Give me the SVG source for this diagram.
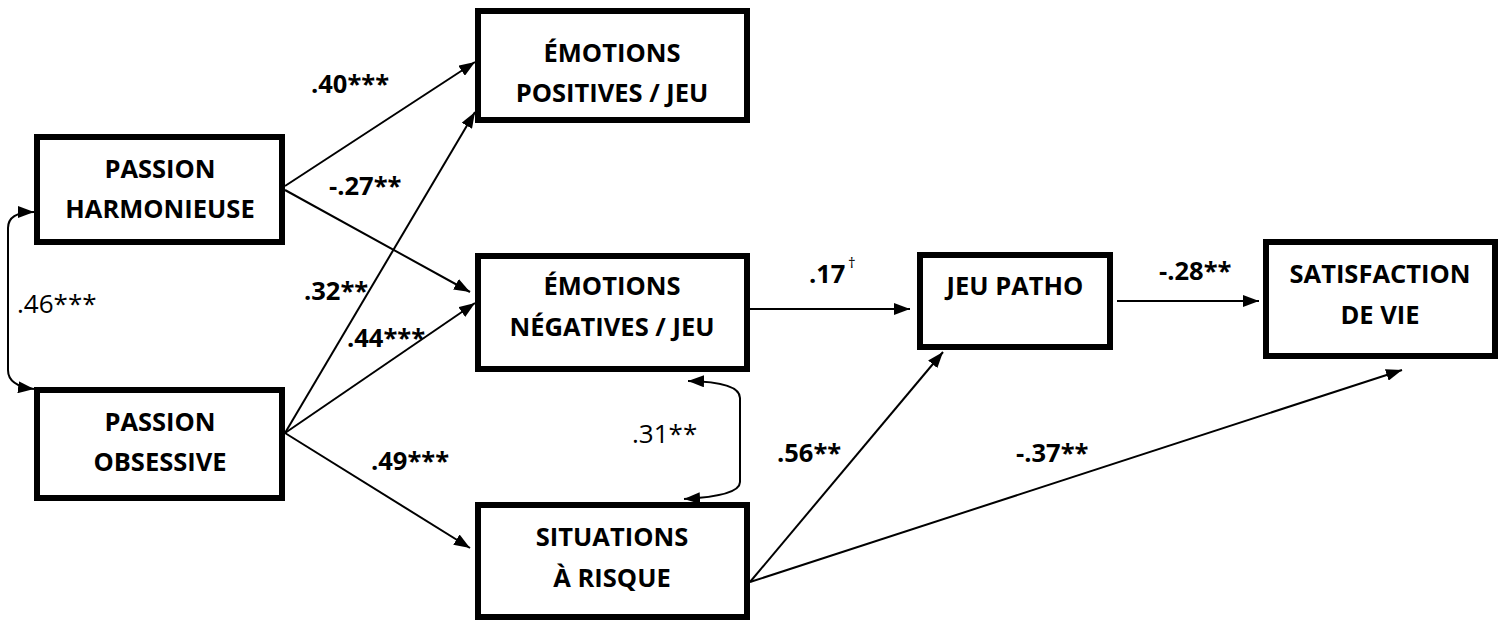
<svg xmlns="http://www.w3.org/2000/svg" width="1507" height="621" viewBox="0 0 1507 621">
<style>
.box{fill:#fff;stroke:#000;stroke-width:6}
.nt{font-family:"Open Sans","Liberation Sans",sans-serif;font-weight:bold;font-size:25.5px;text-anchor:middle;fill:#000}
.lb{font-family:"Open Sans","Liberation Sans",sans-serif;font-weight:bold;font-size:25.5px;fill:#000}
.ln{font-family:"Open Sans","Liberation Sans",sans-serif;font-weight:normal;font-size:26px;fill:#000}
.c{fill:none;stroke:#000;stroke-width:2}
</style>
<defs>
<marker id="ah" viewBox="0 0 16 12" refX="16" refY="6" markerWidth="16" markerHeight="12" markerUnits="userSpaceOnUse" orient="auto-start-reverse">
<path d="M0,0 L16,6 L0,12 z" fill="#000"/>
</marker>
</defs>
<g id="connectors">
<line class="c" x1="285" y1="186" x2="475" y2="62" marker-end="url(#ah)"/>
<line class="c" x1="285" y1="190" x2="470" y2="292" marker-end="url(#ah)"/>
<line class="c" x1="285" y1="433" x2="475" y2="112" marker-end="url(#ah)"/>
<line class="c" x1="285" y1="433" x2="475" y2="303" marker-end="url(#ah)"/>
<line class="c" x1="285" y1="433" x2="470" y2="548" marker-end="url(#ah)"/>
<line class="c" x1="750" y1="309" x2="910" y2="309" marker-end="url(#ah)"/>
<line class="c" x1="750" y1="582" x2="943" y2="352" marker-end="url(#ah)"/>
<line class="c" x1="750" y1="582" x2="1402" y2="370" marker-end="url(#ah)"/>
<line class="c" x1="1117" y1="301" x2="1259" y2="301" marker-end="url(#ah)"/>
<path class="c" d="M34,389 Q8,386 8,370 L8,228 Q8,212 34,212" marker-start="url(#ah)" marker-end="url(#ah)"/>
<path class="c" d="M688,381 Q740,382 740,398 L740,482 Q740,496 684,499" marker-start="url(#ah)" marker-end="url(#ah)"/>
</g>
<g id="labels">
<text class="lb" x="311" y="93">.40***</text>
<text class="lb" x="329" y="195">-.27**</text>
<text class="lb" x="304" y="300">.32**</text>
<text class="lb" x="347" y="347">.44***</text>
<text class="lb" x="371" y="470">.49***</text>
<text class="lb" x="809" y="283">.17</text>
<text class="ln" x="848" y="268" style="font-size:15px">†</text>
<text class="lb" x="777" y="462">.56**</text>
<text class="lb" x="1016" y="462">-.37**</text>
<text class="lb" x="1159" y="280">-.28**</text>
<text class="ln" x="17" y="313">.46***</text>
<text class="ln" x="632" y="443">.31**</text>
</g>
<g id="passion-harmonieuse">
<rect class="box" x="37" y="137" width="245" height="105"/>
<text class="nt" x="160" y="178">PASSION</text>
<text class="nt" x="160" y="218">HARMONIEUSE</text>
</g>
<g id="passion-obsessive">
<rect class="box" x="37" y="390" width="245" height="108"/>
<text class="nt" x="160" y="431">PASSION</text>
<text class="nt" x="160" y="471">OBSESSIVE</text>
</g>
<g id="emotions-positives">
<rect class="box" x="478" y="11" width="269" height="109"/>
<text class="nt" x="612" y="62">ÉMOTIONS</text>
<text class="nt" x="612" y="102">POSITIVES / JEU</text>
</g>
<g id="emotions-negatives">
<rect class="box" x="478" y="256" width="269" height="113"/>
<text class="nt" x="612" y="295">ÉMOTIONS</text>
<text class="nt" x="612" y="336">NÉGATIVES / JEU</text>
</g>
<g id="situations-risque">
<rect class="box" x="478" y="505" width="269" height="112"/>
<text class="nt" x="612" y="546">SITUATIONS</text>
<text class="nt" x="612" y="587">À RISQUE</text>
</g>
<g id="jeu-patho">
<rect class="box" x="920" y="255" width="190" height="92"/>
<text class="nt" x="1015" y="295">JEU PATHO</text>
</g>
<g id="satisfaction-vie">
<rect class="box" x="1266" y="242" width="229" height="114"/>
<text class="nt" x="1380" y="283">SATISFACTION</text>
<text class="nt" x="1380" y="324">DE VIE</text>
</g>
</svg>
